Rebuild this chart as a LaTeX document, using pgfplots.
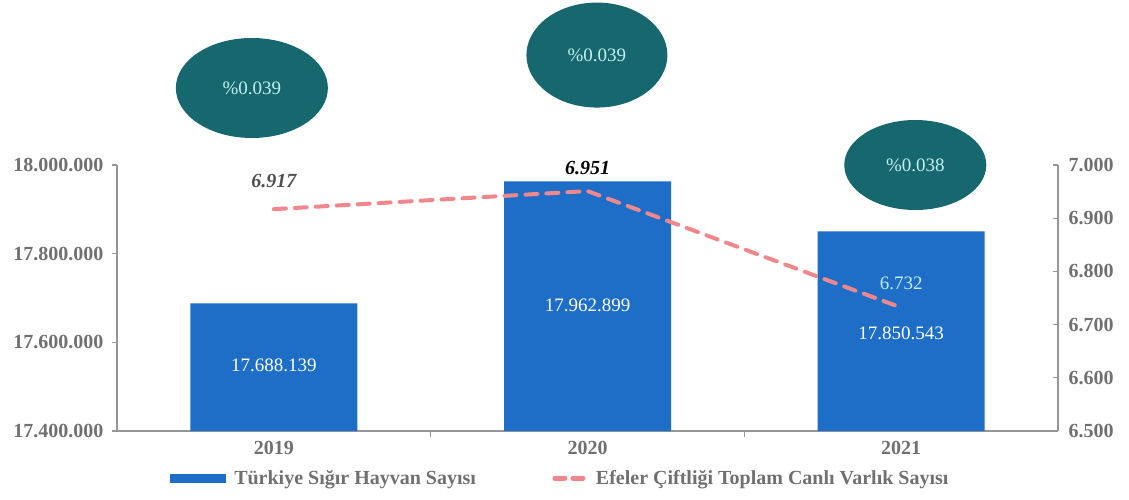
\documentclass[border=0pt]{standalone}
\usepackage{pgfplots}
\pgfplotsset{compat=1.18}
\usepackage{fontspec}
\setmainfont{Liberation Serif}
\usetikzlibrary{shapes.geometric}
\definecolor{barblue}{RGB}{30,110,200}
\definecolor{ellteal}{RGB}{22,104,110}
\definecolor{elltext}{RGB}{195,238,242}
\definecolor{linepink}{RGB}{240,135,140}
\definecolor{txtgrey}{RGB}{112,112,112}
\definecolor{axgrey}{RGB}{150,150,150}
\definecolor{lblgrey}{RGB}{80,80,80}
\newcommand{\fs}{\fontsize{20}{24}\selectfont}
\begin{document}
\begin{tikzpicture}
\useasboundingbox (-117pt,-68pt) rectangle (1012pt,431pt);
\begin{axis}[
  at={(0pt,0pt)}, anchor=south west, scale only axis,
  width=941pt, height=266pt,
  xmin=-0.5, xmax=2.5, ymin=17400000, ymax=18000000,
  scaled y ticks=false,
  axis y line*=left, axis x line*=bottom,
  axis line style={axgrey, line width=1.5pt},
  ytick={17400000,17600000,17800000,18000000},
  yticklabels={17.400.000,17.600.000,17.800.000,18.000.000},
  xtick={0,1,2}, xticklabels={2019,2020,2021},
  major x tick style={draw=none},
  minor xtick={0.5,1.5},
  tick align=outside,
  tick style={axgrey, line width=1.2pt},
  major tick length=5pt, minor tick length=6pt,
  tick label style={font=\fs\bfseries, text=txtgrey},
  yticklabel style={xshift=-5pt},
  xticklabel style={yshift=-2pt},
  ybar, bar width=167pt, clip=false,
]
\addplot[fill=barblue, draw=none] coordinates {(0,17688139) (1,17962899) (2,17850543)};
\node[text=white, font=\fontsize{19}{23}\selectfont] at (axis cs:0,17548900) {17.688.139};
\node[text=white, font=\fontsize{19}{23}\selectfont] at (axis cs:1,17684200) {17.962.899};
\node[text=white, font=\fontsize{19}{23}\selectfont] at (axis cs:2,17621000) {17.850.543};
\node[ellipse, fill=ellteal, minimum width=152pt, minimum height=100pt, inner sep=0pt,
      text=elltext, font=\fontsize{19}{23}\selectfont] at (axis cs:-0.07,18173700) {\%0.039};
\node[ellipse, fill=ellteal, minimum width=141pt, minimum height=105pt, inner sep=0pt,
      text=elltext, font=\fontsize{19}{23}\selectfont] at (axis cs:1.03,18248000) {\%0.039};
\node[ellipse, fill=ellteal, minimum width=142pt, minimum height=90pt, inner sep=0pt,
      text=elltext, font=\fontsize{19}{23}\selectfont] at (axis cs:2.045,18000000) {\%0.038};
\end{axis}
\begin{axis}[
  at={(0pt,0pt)}, anchor=south west, scale only axis,
  width=941pt, height=266pt,
  xmin=-0.5, xmax=2.5, ymin=6500, ymax=7000,
  axis y line*=right, axis x line=none,
  axis line style={axgrey, line width=1.5pt},
  ytick={6500,6600,6700,6800,6900,7000},
  yticklabels={6.500,6.600,6.700,6.800,6.900,7.000},
  tick align=inside,
  tick style={axgrey, line width=1.2pt},
  major tick length=5pt,
  tick label style={font=\fs\bfseries, text=txtgrey},
  yticklabel style={xshift=7pt},
  clip=false,
  legend columns=2,
  legend style={draw=none, fill=none, font=\fs\bfseries, text=txtgrey,
    at={(axis description cs:0.053,-0.177)}, anchor=west,
    /tikz/every even column/.append style={column sep=72pt}},
  legend cell align=left,
]
\addlegendimage{legend image code/.code={\fill[barblue] (0pt,-4pt) rectangle (55pt,4pt); \path[draw=none,fill=none] (0pt,0pt) -- (62pt,0pt);}}
\addlegendentry{Türkiye Sığır Hayvan Sayısı}
\addplot[linepink, line width=4pt, dash pattern=on 12pt off 9pt, line cap=round,
  legend image code/.code={\draw[linepink, line width=5pt, dash pattern=on 10pt off 8pt, line cap=round] (5pt,0pt)--(37pt,0pt); \path[draw=none,fill=none] (0pt,0pt) -- (44pt,0pt);}]
  coordinates {(0,6917) (1,6951) (2,6732)};
\addlegendentry{Efeler Çiftliği Toplam Canlı Varlık Sayısı}
\node[font=\fs\bfseries\itshape, text=lblgrey] at (axis cs:0,6970) {6.917};
\node[font=\fs\bfseries\itshape, text=black] at (axis cs:1,6994) {6.951};
\node[font=\fontsize{19}{23}\selectfont, text=elltext] at (axis cs:2,6778) {6.732};
\end{axis}
\end{tikzpicture}
\end{document}
